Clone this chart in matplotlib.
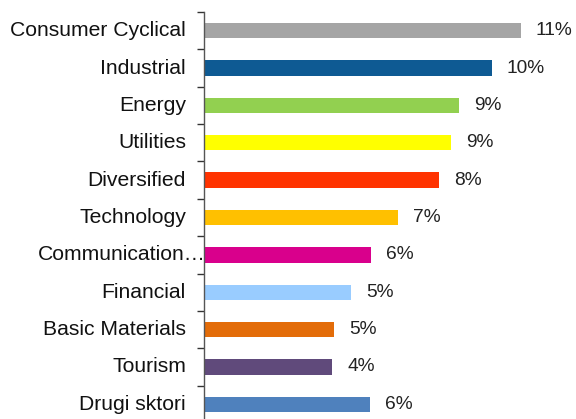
import numpy as np
import matplotlib.pyplot as plt
from matplotlib.ticker import FixedLocator

# === Data ===
sectors = ["Consumer Cyclical", "Industrial", "Energy", "Utilities", "Diversified",
           "Technology", "Communication…", "Financial", "Basic Materials", "Tourism",
           "Drugi sktori"]
weights = [11.0, 9.99, 8.85, 8.59, 8.16, 6.73, 5.79, 5.12, 4.52, 4.44, 5.76]
colors = ["#A5A5A5", "#0E5A93", "#92D050", "#FFFF00", "#FF3300", "#FFC000",
          "#D9008C", "#99CCFF", "#E36C09", "#604A7B", "#4F81BD"]

plt.rcParams["font.family"] = ["Liberation Sans", "DejaVu Sans"]

fig = plt.figure(figsize=(5.76, 4.19), dpi=100)
ax = fig.add_axes([204 / 576, -4 / 419, 372 / 576, 411 / 419])

n = len(sectors)
y = np.arange(n)
ax.barh(y, weights, height=0.41, color=colors)
ax.set_ylim(n - 0.5, -0.5)
ax.set_xlim(0, 372 / 28.79)

# category labels
ax.set_yticks([])
for i, name in enumerate(sectors):
    dx = 1 if name.startswith("Communication") else -13
    ax.annotate(name, xy=(0, i), xytext=(dx, 0), textcoords="offset points",
                ha="right", va="center", fontsize=15.2, color="#111111",
                annotation_clip=False)

# value labels
for i, v in enumerate(weights):
    ax.annotate(f"{round(v)}%", xy=(v, i), xytext=(11, 0), textcoords="offset points",
                ha="left", va="center", fontsize=13.8, color="#222222")

# boundary ticks
ax.yaxis.set_minor_locator(FixedLocator(np.arange(n + 1) - 0.5))
ax.tick_params(axis="y", which="minor", length=5, width=1, color="#333333", direction="out")
ax.tick_params(axis="y", which="major", length=0)
ax.set_xticks([])
for s in ["top", "right", "bottom"]:
    ax.spines[s].set_visible(False)
ax.spines["left"].set_color("#555555")
ax.spines["left"].set_linewidth(1)

fig.savefig("out.png", dpi=100)
